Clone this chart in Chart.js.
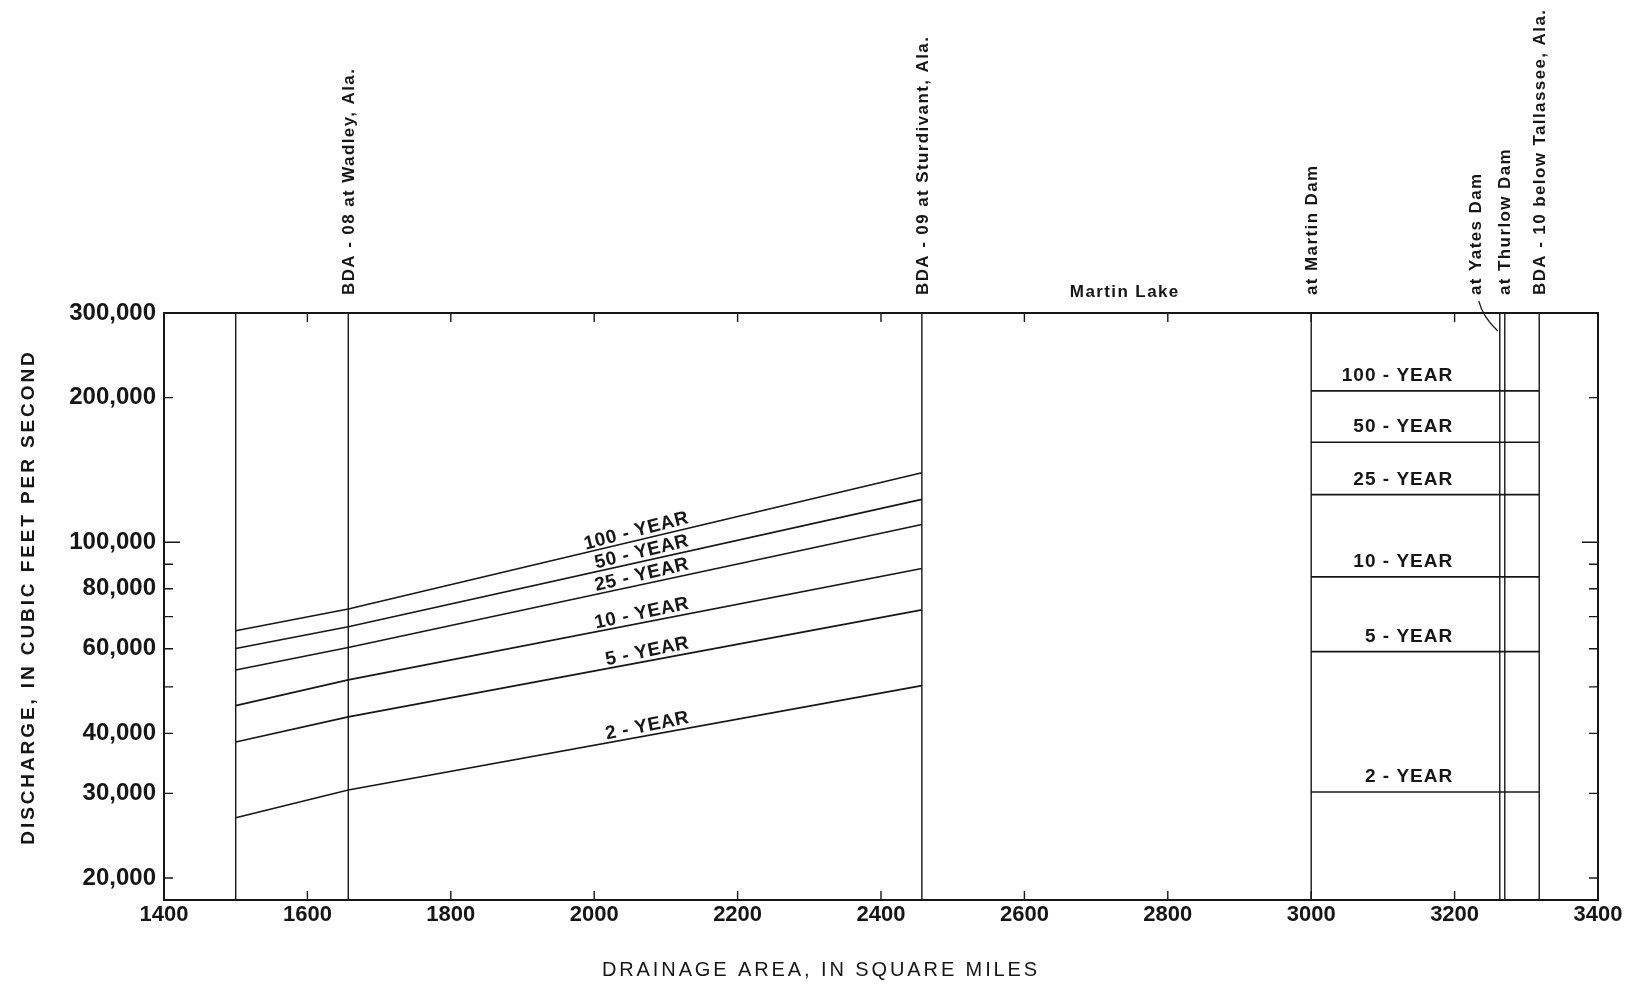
<!DOCTYPE html>
<html>
<head>
<meta charset="utf-8">
<title>Flood frequency - Tallapoosa River</title>
<script src="https://cdn.jsdelivr.net/npm/chart.js@4.4.1/dist/chart.umd.min.js"></script>
<style>
  html, body { margin: 0; padding: 0; background: #fff; }
  #wrap { width: 1650px; height: 990px; }
</style>
</head>
<body>
<div id="wrap"><canvas id="floodChart" width="1650" height="990"></canvas></div>
<script>
console.log('[Flood chart] script loaded');

// upper reach (above Martin Lake): drainage area, sq mi
const upperAreas = [1500, 1657, 2457];
// discharge, cfs, for each recurrence interval
const q100Upper = [65400, 72600, 139500];
const q50Upper = [60100, 66700, 122800];
const q25Upper = [54200, 60400, 108900];
const q10Upper = [45700, 51700, 88200];
const q5Upper = [38400, 43300, 72300];
const q2Upper = [26700, 30500, 50300];

// lower reach (Martin Dam to below Tallassee): constant discharge
const lowerAreas = [3000, 3318];
const lowerQ = [206500, 161500, 125600, 84700, 59200, 30200];

const periodLabels = ['100 - YEAR', '50 - YEAR', '25 - YEAR', '10 - YEAR', '5 - YEAR', '2 - YEAR'];

// sites marked with vertical lines
const siteAreas = [1500, 1657, 2457, 3000, 3263, 3270, 3318];
const siteNames = ['', 'BDA - 08 at Wadley, Ala.', 'BDA - 09 at Sturdivant, Ala.', 'at Martin Dam', 'at Yates Dam', 'at Thurlow Dam', 'BDA - 10 below Tallassee, Ala.'];
const lakeName = 'Martin Lake';

// axes
const xTickValues = [1400, 1600, 1800, 2000, 2200, 2400, 2600, 2800, 3000, 3200, 3400];
const yTickValues = [20000, 30000, 40000, 50000, 60000, 70000, 80000, 90000, 100000, 200000, 300000];
const yTickLabels = ['20,000', '30,000', '40,000', '', '60,000', '', '80,000', '', '100,000', '200,000', '300,000'];

const FONT = '"Liberation Sans", Arial, Helvetica, sans-serif';
const INK = '#161616';

Chart.defaults.font.family = FONT;
Chart.defaults.color = INK;

const upperSeries = [q100Upper, q50Upper, q25Upper, q10Upper, q5Upper, q2Upper];

function lineSet(points, width) {
    return {
        data: points,
        borderColor: INK,
        borderWidth: width,
        pointRadius: 0,
        tension: 0,
        fill: false
    };
}

const datasets = [];
// vertical site lines
siteAreas.forEach(a => {
    datasets.push(lineSet([{ x: a, y: 18000 }, { x: a, y: 300000 }], 1.4));
});
// frequency curves
upperSeries.forEach(q => {
    datasets.push(lineSet(upperAreas.map((a, i) => ({ x: a, y: q[i] })), 1.6));
});
lowerQ.forEach(q => {
    datasets.push(lineSet(lowerAreas.map(a => ({ x: a, y: q })), 1.6));
});

// box, inward ticks and all the hand lettering
const annotations = {
    id: 'annotations',
    afterDatasetsDraw(chart) {
        const { ctx, chartArea: a, scales: { x, y } } = chart;
        ctx.save();
        ctx.strokeStyle = INK;
        ctx.lineWidth = 2;
        ctx.strokeRect(a.left, a.top, a.right - a.left, a.bottom - a.top);

        ctx.lineWidth = 1.4;
        ctx.beginPath();
        xTickValues.forEach(v => {
            if (v <= x.min || v >= x.max) return;
            const px = x.getPixelForValue(v);
            ctx.moveTo(px, a.bottom);
            ctx.lineTo(px, a.bottom - 9);
            ctx.moveTo(px, a.top);
            ctx.lineTo(px, a.top + 9);
        });
        yTickValues.forEach(v => {
            if (v >= y.max) return;
            const py = y.getPixelForValue(v);
            const len = v === 100000 ? 16 : 9;
            ctx.moveTo(a.left, py);
            ctx.lineTo(a.left + len, py);
            ctx.moveTo(a.right, py);
            ctx.lineTo(a.right - len, py);
        });
        ctx.stroke();
        ctx.restore();
    },
    afterDraw(chart) {
        const { ctx, chartArea: a, scales: { x, y } } = chart;
        ctx.save();
        ctx.fillStyle = INK;
        ctx.strokeStyle = INK;

        // site names, written upward above the box
        ctx.font = 'bold 17px ' + FONT;
        ctx.letterSpacing = '1.4px';
        siteNames.forEach((name, i) => {
            if (!name) return;
            let px = x.getPixelForValue(siteAreas[i]) + 1;
            if (name === 'at Yates Dam') px -= 24;
            ctx.save();
            ctx.translate(px, a.top - 18);
            ctx.rotate(-Math.PI / 2);
            ctx.textAlign = 'left';
            ctx.textBaseline = 'middle';
            ctx.fillText(name, 0, 0);
            ctx.restore();
        });
        // leader from Yates label to its line
        const yx = x.getPixelForValue(siteAreas[4]);
        ctx.lineWidth = 1.2;
        ctx.beginPath();
        ctx.moveTo(yx - 21, a.top - 12);
        ctx.quadraticCurveTo(yx - 17, a.top + 4, yx - 2, a.top + 18);
        ctx.stroke();

        // lake name
        ctx.textAlign = 'center';
        ctx.textBaseline = 'middle';
        ctx.fillText(lakeName, x.getPixelForValue(2740), a.top - 21);

        // recurrence labels along the upper reach curves
        ctx.font = 'bold 19px ' + FONT;
        ctx.letterSpacing = '0.6px';
        upperSeries.forEach((q, i) => {
            const x1 = x.getPixelForValue(upperAreas[1]);
            const y1 = y.getPixelForValue(q[1]);
            const x2 = x.getPixelForValue(upperAreas[2]);
            const y2 = y.getPixelForValue(q[2]);
            const ax = x.getPixelForValue(2135);
            const ay = y1 + (y2 - y1) * (ax - x1) / (x2 - x1);
            ctx.save();
            ctx.translate(ax, ay);
            ctx.rotate(Math.atan2(y2 - y1, x2 - x1) - 0.02);
            ctx.textAlign = 'right';
            ctx.textBaseline = 'alphabetic';
            ctx.fillText(periodLabels[i], 0, -5);
            ctx.restore();
        });

        // recurrence labels for the lower reach
        ctx.letterSpacing = '1px';
        ctx.textAlign = 'right';
        ctx.textBaseline = 'alphabetic';
        lowerQ.forEach((q, i) => {
            ctx.fillText(periodLabels[i], x.getPixelForValue(3198), y.getPixelForValue(q) - 10);
        });

        // axis titles
        ctx.textAlign = 'center';
        ctx.textBaseline = 'middle';
        ctx.font = 'bold 19px ' + FONT;
        ctx.letterSpacing = '2.9px';
        ctx.save();
        ctx.translate(29, 597);
        ctx.rotate(-Math.PI / 2);
        ctx.fillText('DISCHARGE, IN CUBIC FEET PER SECOND', 0, 0);
        ctx.restore();

        ctx.font = '20px ' + FONT;
        ctx.letterSpacing = '2.9px';
        ctx.fillText('DRAINAGE AREA, IN SQUARE MILES', 821, 970);
        ctx.restore();
    }
};

function initChart() {
    const ctx = document.getElementById('floodChart');
    new Chart(ctx, {
        type: 'line',
        data: { datasets },
        options: {
            responsive: false,
            animation: false,
            layout: { padding: { top: 313, right: 52, left: 0, bottom: 0 } },
            plugins: {
                legend: { display: false },
                tooltip: { enabled: false }
            },
            scales: {
                x: {
                    type: 'linear',
                    min: 1400,
                    max: 3400,
                    afterFit: s => { s.height = 90; },
                    afterBuildTicks: s => { s.ticks = xTickValues.map(v => ({ value: v })); },
                    grid: { display: false, drawTicks: false },
                    border: { display: false },
                    ticks: {
                        padding: 2,
                        maxRotation: 0,
                        font: { size: 22, weight: 'bold' },
                        callback: v => String(v)
                    }
                },
                y: {
                    type: 'logarithmic',
                    min: 18000,
                    max: 300000,
                    afterFit: s => { s.width = 164; },
                    afterBuildTicks: s => { s.ticks = yTickValues.map(v => ({ value: v })); },
                    grid: { display: false, drawTicks: false },
                    border: { display: false },
                    ticks: {
                        padding: 8,
                        autoSkip: false,
                        font: { size: 24, weight: 'bold' },
                        callback: v => yTickLabels[yTickValues.indexOf(v)]
                    }
                }
            }
        },
        plugins: [annotations]
    });
}

initChart();
</script>
</body>
</html>
